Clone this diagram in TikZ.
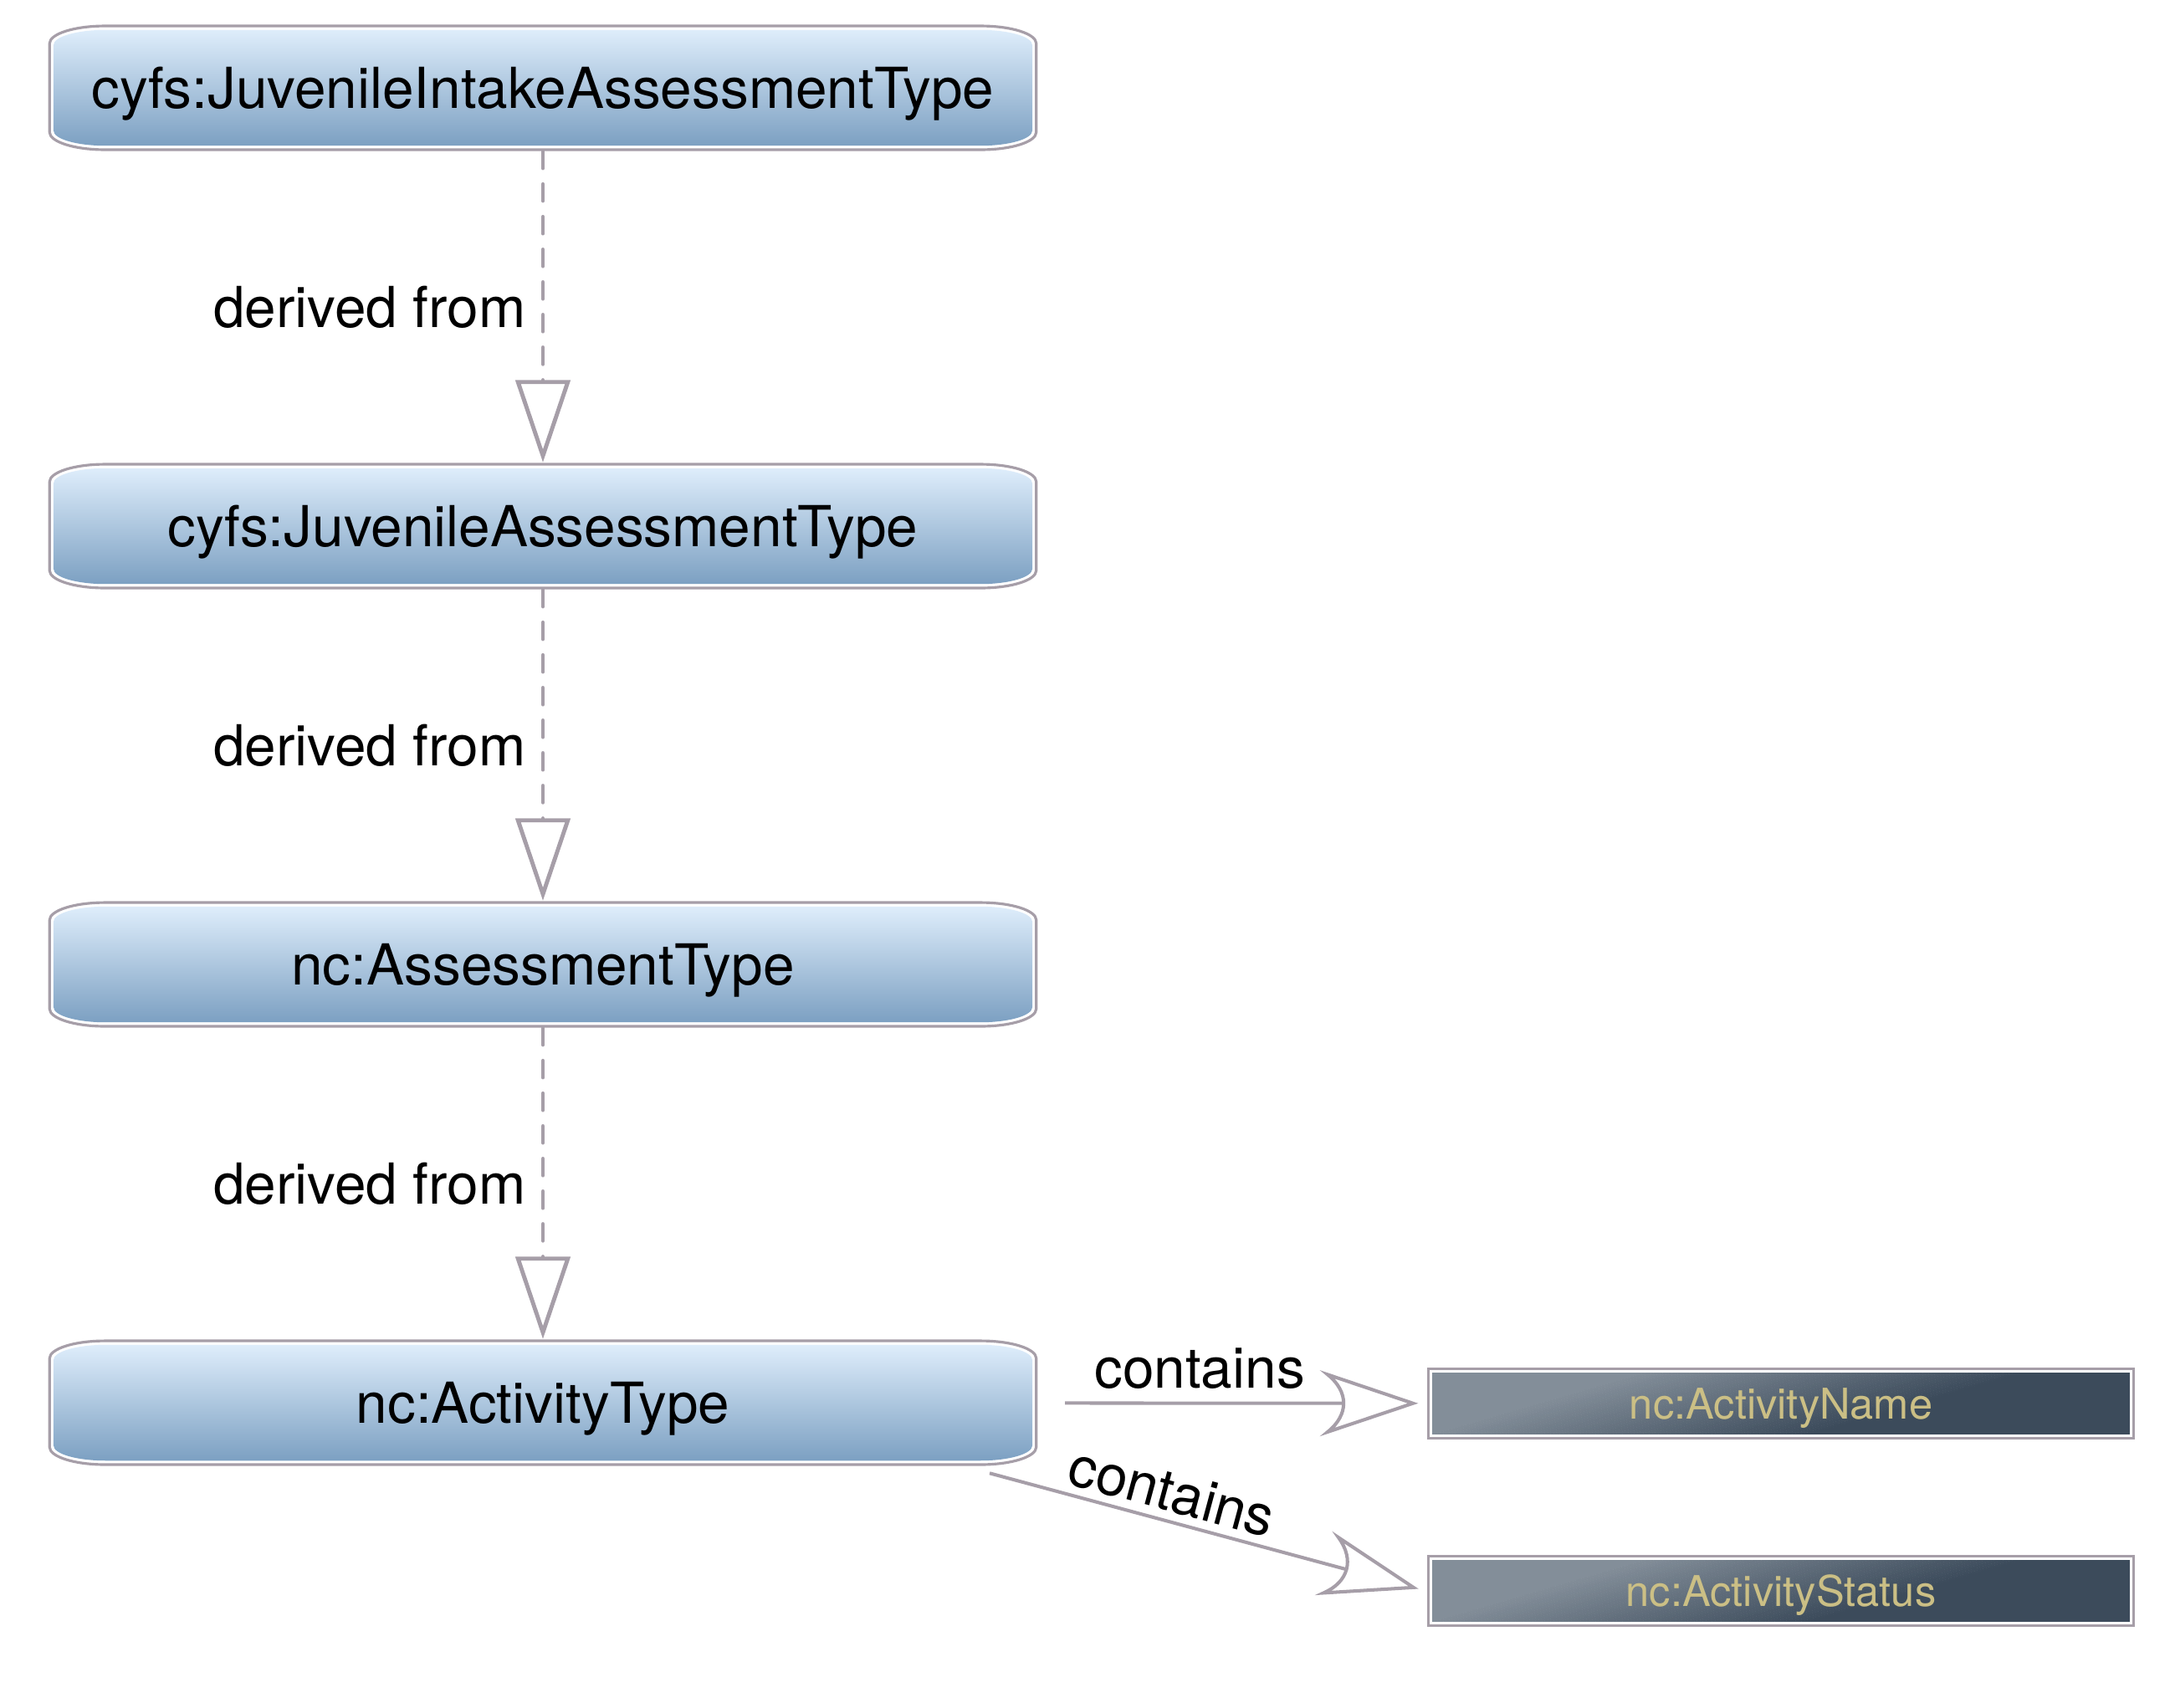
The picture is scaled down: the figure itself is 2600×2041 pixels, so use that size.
\documentclass[tikz,border=0pt]{standalone}
\usepackage{fontspec}
\setmainfont{TeX Gyre Heros}
\usetikzlibrary{arrows.meta,calc}

\definecolor{edgegray}{RGB}{166,158,168}
\definecolor{bluetop}{RGB}{222,237,251}
\definecolor{bluebot}{RGB}{124,160,194}
\definecolor{slatelight}{RGB}{131,142,153}
\definecolor{slatedark}{RGB}{60,75,91}
\definecolor{goldtext}{RGB}{203,191,133}

% open arrow head with a curved back
\pgfdeclarearrow{
  name = CurvedBarb,
  parameters = {\the\pgfarrowlength,\the\pgfarrowwidth},
  setup code = {
    \pgfarrowssettipend{0pt}
    \pgfarrowssetbackend{-\pgfarrowlength}
    \pgfarrowssetlineend{-0.8\pgfarrowlength}
    \pgfarrowssetvisualbackend{-0.8\pgfarrowlength}
    \pgfarrowshullpoint{0pt}{0pt}
    \pgfarrowsupperhullpoint{-\pgfarrowlength}{0.5\pgfarrowwidth}
    \pgfarrowssavethe\pgfarrowlength
    \pgfarrowssavethe\pgfarrowwidth
  },
  drawing code = {
    \pgfsetdash{}{0pt}
    \pgfpathmoveto{\pgfqpoint{0pt}{0pt}}
    \pgfpathlineto{\pgfpoint{-\pgfarrowlength}{0.5\pgfarrowwidth}}
    \pgfpathcurveto{\pgfpoint{-0.75\pgfarrowlength}{0.2\pgfarrowwidth}}%
                   {\pgfpoint{-0.75\pgfarrowlength}{-0.2\pgfarrowwidth}}%
                   {\pgfpoint{-\pgfarrowlength}{-0.5\pgfarrowwidth}}
    \pgfpathclose
    \pgfusepathqstroke
  },
  defaults = {length = 29pt, width = 19pt}
}

% rounded box with elliptical corners: #1 inset, #2 x radius, #3 y radius
\newcommand\ovalpath[3]{%
  ([shift={(#1+#2,-#1)}]path picture bounding box.north west)
  -- ([shift={(-#1-#2,-#1)}]path picture bounding box.north east)
  arc[start angle=90,end angle=0,x radius=#2,y radius=#3]
  -- ([shift={(-#1,#1+#3)}]path picture bounding box.south east)
  arc[start angle=0,end angle=-90,x radius=#2,y radius=#3]
  -- ([shift={(#1+#2,#1)}]path picture bounding box.south west)
  arc[start angle=-90,end angle=-180,x radius=#2,y radius=#3]
  -- ([shift={(#1,-#1-#3)}]path picture bounding box.north west)
  arc[start angle=180,end angle=90,x radius=#2,y radius=#3]
  -- cycle}

\newcommand\insetrect[1]{%
  ([shift={(#1,-#1)}]path picture bounding box.north west)
  rectangle ([shift={(-#1,#1)}]path picture bounding box.south east)}

% diagonal slate gradient built from slanted strips
\newcommand\slatefill{%
  \fill[slatelight] ([shift={(-4cm,0cm)}]path picture bounding box.south west)
    -- ++(3.8cm,0cm) -- ++(3.1cm,0.9cm) -- ++(-3.8cm,0cm) -- cycle;
  \foreach \i in {0,...,43} {
    \pgfmathtruncatemacro\pct{100-\i*100/43}
    \fill[slatelight!\pct!slatedark]
      ([shift={(-0.25cm+\i*0.107cm,0cm)}]path picture bounding box.south west)
      -- ++(0.12cm,0cm) -- ++(3.1cm,0.9cm) -- ++(-0.12cm,0cm) -- cycle;
  }
  \fill[slatedark] ([shift={(4.35cm,0cm)}]path picture bounding box.south west)
    -- ++(5cm,0cm) -- ++(3.1cm,0.9cm) -- ++(-5cm,0cm) -- cycle;
}

\tikzset{
  bigfont/.style={font=\fontsize{19.2}{23}\selectfont},
  typebox/.style={rectangle, minimum width=11.82cm, minimum height=1.51cm,
    inner sep=0pt, text depth=0pt, fill=white, bigfont, text=black,
    path picture={
      \draw[edgegray, line width=0.9pt] \ovalpath{0.45pt}{0.66cm}{0.21cm};
      \shade[top color=bluetop, bottom color=bluebot] \ovalpath{1.8pt}{0.62cm}{0.18cm};
    }},
  elembox/.style={rectangle, minimum width=8.46cm, minimum height=0.86cm,
    inner sep=0pt, text depth=0pt, fill=white, text=goldtext,
    font=\fontsize{14.4}{17}\selectfont,
    path picture={
      \draw[edgegray, line width=0.9pt] \insetrect{0.45pt};
      \begin{scope}
        \clip \insetrect{1.8pt};
        \slatefill
      \end{scope}
    }},
  derived/.style={draw=edgegray, line width=1.4pt, line cap=round,
    dash pattern=on 5.6pt off 5.5pt,
    -{Triangle[open, length=28pt, width=18.5pt]}},
  contains/.style={draw=edgegray, line width=1.15pt, -{CurvedBarb[length=29pt, width=19.5pt]}},
  dlabel/.style={left=0.18cm, inner sep=0pt, bigfont, text=black},
  clabel/.style={inner sep=0pt, bigfont, text=black}
}

\begin{document}
\begin{tikzpicture}[x=0.01cm, y=-0.01cm]
\useasboundingbox (0,0) rectangle (2600,2041);

% type hierarchy
\node[typebox] (t1) at (649,105)  {cyfs:JuvenileIntakeAssessmentType};
\node[typebox] (t2) at (649,629)  {cyfs:JuvenileAssessmentType};
\node[typebox] (t3) at (649,1153) {nc:AssessmentType};
\node[typebox] (t4) at (649,1677) {nc:ActivityType};

% contained elements
\node[elembox] (name)   at (2129,1678) {nc:ActivityName};
\node[elembox] (status) at (2129,1902) {nc:ActivityStatus};

% derivation links
\draw[derived] (t1) -- node[dlabel] {derived from} (t2);
\draw[derived] (t2) -- node[dlabel] {derived from} (t3);
\draw[derived] (t3) -- node[dlabel] {derived from} (t4);

% containment links
\draw[contains, shorten <=0.32cm, shorten >=0.16cm] (t4) --
  node[clabel, pos=0.416, above=0.15cm] {contains} (name);
\draw[contains, shorten >=0.16cm] ([shift={(-0.58cm,-0.08cm)}]t4.south east) --
  node[clabel, pos=0.40, sloped, above=0.09cm] {contains} (status.west);
\end{tikzpicture}
\end{document}
